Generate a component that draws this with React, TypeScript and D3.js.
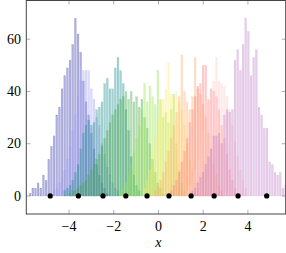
import React from 'react';
import * as d3 from 'd3';

// shared histogram grid
const binWidth = 0.119;
const firstBinCenter = -5.62;

// each component: index of its first bin + counts per bin
const blueStart = -1;
const blueCounts = [1, 3, 3, 5, 3, 8, 6, 14, 19, 23, 31, 34, 41, 46, 49, 52, 58, 68, 62, 55, 44, 36, 31, 24, 18, 12, 8, 5, 3, 1];
const lavenderStart = 8;
const lavenderCounts = [2, 3, 5, 7, 10, 14, 19, 25, 31, 38, 44, 48, 48, 48, 41, 37, 30, 27, 20, 16, 11, 8, 5, 3, 2];
const tealStart = 12;
const tealCounts = [2, 3, 4, 6, 9, 12, 18, 24, 27, 29, 27, 28, 33, 34, 36, 43, 45, 41, 41, 49, 53, 48, 43, 33, 25, 15, 8, 4, 2];
const greenStart = 14;
const greenCounts = [1, 2, 2, 3, 4, 5, 6, 8, 10, 12, 14, 16, 19, 22, 25, 28, 31, 33, 35, 37, 38, 40, 37, 40, 36, 38, 34, 37, 30, 26, 20, 14, 9, 5, 3, 1];
const limeStart = 33;
const limeCounts = [2, 3, 5, 8, 12, 17, 22, 27, 33, 43, 36, 42, 38, 35, 48, 37, 30, 32, 28, 33, 39, 20, 10, 5, 2];
const yellowStart = 42;
const yellowCounts = [3, 6, 10, 15, 22, 30, 36, 37, 41, 51, 39, 38, 40, 36, 33, 27, 20, 14, 9, 5, 3];
const orangeStart = 46;
const orangeCounts = [2, 4, 6, 9, 13, 17, 22, 27, 32, 38, 54, 40, 36, 33, 38, 53, 41, 39, 35, 30, 24, 18, 12, 8, 4, 2];
const salmonStart = 52;
const salmonCounts = [2, 4, 6, 9, 13, 17, 22, 28, 33, 38, 42, 43, 50, 50, 37, 41, 40, 38, 33, 27, 22, 16, 10, 6, 3];
const pinkStart = 58;
const pinkCounts = [2, 4, 7, 10, 14, 19, 25, 31, 36, 40, 44, 53, 44, 43, 42, 38, 33, 27, 21, 15, 10, 6, 3];
const purpleStart = 60;
const purpleCounts = [2, 3, 5, 7, 9, 12, 15, 18, 23, 23, 24, 20, 31, 33, 32, 33, 52, 56, 48, 58, 68, 63, 46, 53, 56, 34, 31, 26, 26, 13, 12, 9, 8, 9, 3, 4];

const centers = [-4.84, -3.58, -2.48, -1.46, -0.51, 0.47, 1.46, 2.49, 3.56, 4.84];
const xTicks = [-4, -2, 0, 2, 4];
const yTicks = [0, 20, 40, 60];

const series = [
  { start: blueStart, counts: blueCounts },
  { start: lavenderStart, counts: lavenderCounts },
  { start: tealStart, counts: tealCounts },
  { start: greenStart, counts: greenCounts },
  { start: limeStart, counts: limeCounts },
  { start: yellowStart, counts: yellowCounts },
  { start: orangeStart, counts: orangeCounts },
  { start: salmonStart, counts: salmonCounts },
  { start: pinkStart, counts: pinkCounts },
  { start: purpleStart, counts: purpleCounts },
];

const colors = ['#3a3ab0', '#a0a0f5', '#1a8e8e', '#44a844', '#97e34b', '#ffeb65', '#ffb171', '#ff8181', '#ffc9c9', '#c181c9'];

const W = 286, H = 253;
const left = 26.3, right = 285.7, top = 0.5, bottom = 214;
const font = "'Liberation Serif', 'DejaVu Serif', serif";

export default function App() {
  const x = d3.scaleLinear().domain([-5.91, 5.69]).range([left, right]);
  const y = d3.scaleLinear().domain([-6.9, 74.8]).range([bottom, top]);
  const barW = (x(binWidth) - x(0)) * 0.68;

  return (
    <svg width={W} height={H} style={{ position: 'absolute', left: 0, top: 0 }}>
      <defs>
        <clipPath id="plotclip">
          <rect x={left} y={top} width={right - left} height={bottom - top} />
        </clipPath>
      </defs>
      <g clipPath="url(#plotclip)">
        {series.map((s, si) => (
          <g key={si} fill={colors[si]} fillOpacity={0.4} stroke={colors[si]} strokeOpacity={0.3} strokeWidth={0.4}>
            {s.counts.map((c, k) => {
              const cx = x(firstBinCenter + (s.start + k) * binWidth);
              return <rect key={k} x={cx - barW / 2} y={y(c)} width={barW} height={y(0) - y(c)} />;
            })}
          </g>
        ))}
        {centers.map((c, i) => (
          <circle key={i} cx={x(c)} cy={y(0)} r={2.6} fill="#000" />
        ))}
      </g>
      {/* ticks */}
      <g stroke="#999" strokeWidth={0.8}>
        {xTicks.map(t => (
          <g key={t}>
            <line x1={x(t)} x2={x(t)} y1={bottom} y2={bottom - 4} />
            <line x1={x(t)} x2={x(t)} y1={top} y2={top + 4} />
          </g>
        ))}
        {yTicks.map(t => (
          <g key={t}>
            <line x1={left} x2={left + 4} y1={y(t)} y2={y(t)} />
            <line x1={right} x2={right - 4} y1={y(t)} y2={y(t)} />
          </g>
        ))}
      </g>
      <rect x={left} y={top} width={right - left} height={bottom - top} fill="none" stroke="#444" strokeWidth={1} />
      <g fontFamily={font} fontSize={14} fill="#000">
        {xTicks.map(t => (
          <text key={t} x={x(t)} y={230.5} textAnchor="middle">{t < 0 ? '\u2212' + Math.abs(t) : t}</text>
        ))}
        {yTicks.map(t => (
          <text key={t} x={21} y={y(t) + 4.7} textAnchor="end">{t}</text>
        ))}
        <text x={x(0)} y={246.5} textAnchor="middle" fontStyle="italic">x</text>
      </g>
    </svg>
  );
}
